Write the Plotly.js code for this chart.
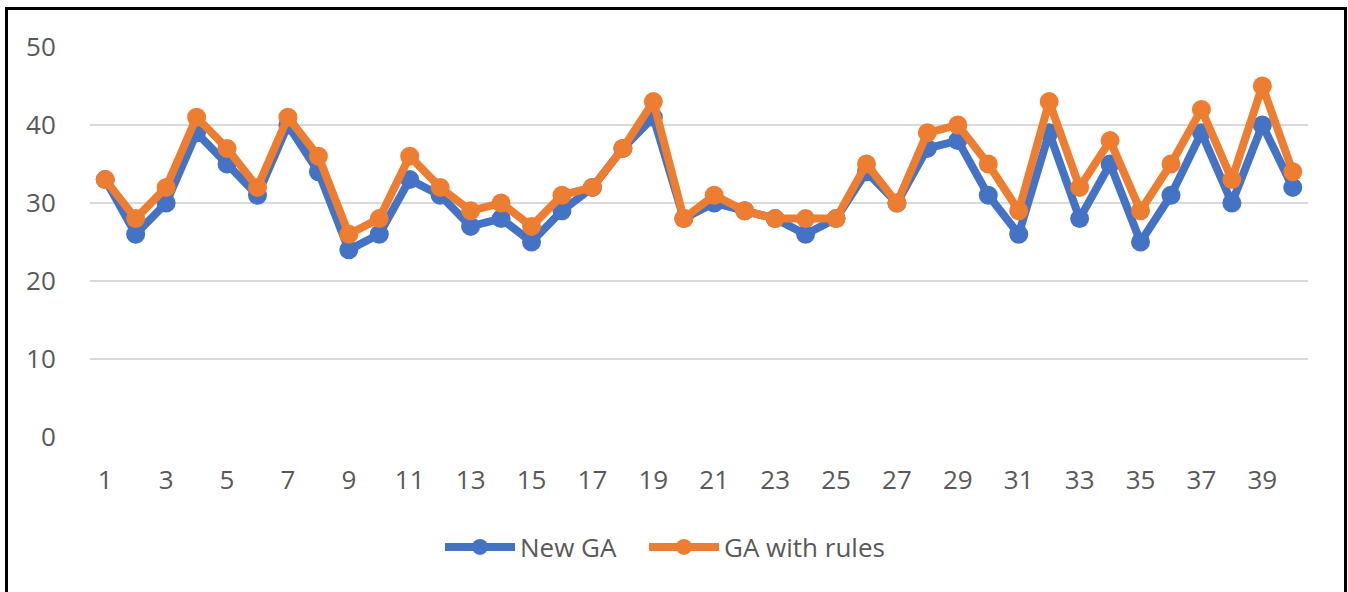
<!DOCTYPE html>
<html>
<head>
<meta charset="utf-8">
<script src="https://cdn.plot.ly/plotly-3.0.1.min.js"></script>
<style>
html,body{margin:0;padding:0;background:#fff;}
#chart{width:1348px;height:592px;position:absolute;left:0;top:0;}
#frame{position:absolute;left:5px;top:7px;width:1336px;height:600px;border:3px solid #000;pointer-events:none;}
</style>
</head>
<body>
<div id="chart"></div>
<div id="frame"></div>
<script>
const categories = [1,2,3,4,5,6,7,8,9,10,11,12,13,14,15,16,17,18,19,20,21,22,23,24,25,26,27,28,29,30,31,32,33,34,35,36,37,38,39,40];
const newGA = [33,26,30,39,35,31,40,34,24,26,33,31,27,28,25,29,32,37,41,28,30,29,28,26,28,34,30,37,38,31,26,39,28,35,25,31,39,30,40,32];
const gaWithRules = [33,28,32,41,37,32,41,36,26,28,36,32,29,30,27,31,32,37,43,28,31,29,28,28,28,35,30,39,40,35,29,43,32,38,29,35,42,33,45,34];
const xTickVals = [1,3,5,7,9,11,13,15,17,19,21,23,25,27,29,31,33,35,37,39];
const yTickVals = [0,10,20,30,40,50];
const seriesNames = ['New GA','GA with rules'];

const font = {family:'"Open Sans", "Noto Sans", sans-serif', size:26, color:'#595959'};

const traces = [
  {x:categories, y:newGA, name:seriesNames[0], type:'scatter', mode:'lines+markers', legend:'legend',
   line:{color:'#4472C4', width:8}, marker:{color:'#4472C4', size:19}},
  {x:categories, y:gaWithRules, name:seriesNames[1], type:'scatter', mode:'lines+markers', legend:'legend2',
   line:{color:'#ED7D31', width:8}, marker:{color:'#ED7D31', size:19}}
];

const legendCommon = {orientation:'h', xref:'container', yref:'container', xanchor:'left',
          y:(592-547)/592, yanchor:'middle', itemwidth:70, font:font, bgcolor:'rgba(0,0,0,0)'};

const layout = {
  width:1348, height:592,
  margin:{l:90, r:40, t:47, b:155},
  paper_bgcolor:'#fff', plot_bgcolor:'#fff',
  font:font,
  showlegend:true,
  legend:Object.assign({}, legendCommon, {x:440/1348}),
  legend2:Object.assign({}, legendCommon, {x:644/1348}),
  xaxis:{range:[0.5,40.5], tickmode:'array', tickvals:xTickVals, ticktext:xTickVals.map(String),
         showgrid:false, zeroline:false, showline:false, ticks:'outside', ticklen:20,
         tickcolor:'rgba(0,0,0,0)', tickfont:font, automargin:false},
  yaxis:{range:[0,50], tickmode:'array', tickvals:yTickVals, showgrid:true, gridcolor:'#D9D9D9',
         gridwidth:2, zeroline:false, showline:false, ticks:'outside', ticklen:28,
         tickcolor:'rgba(0,0,0,0)', tickfont:font, automargin:false}
};

Plotly.newPlot('chart', traces, layout, {displayModeBar:false, staticPlot:true});
</script>
</body>
</html>
